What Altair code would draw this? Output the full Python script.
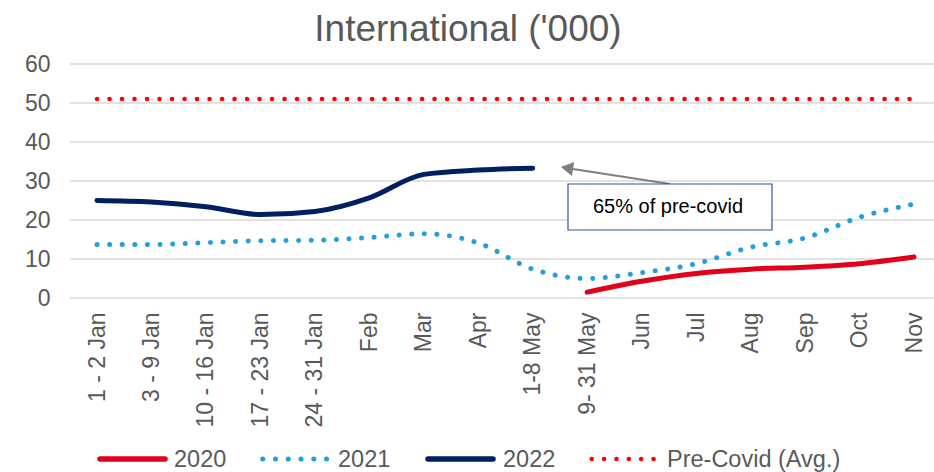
import altair as alt
import pandas as pd

# ---- data -------------------------------------------------------------
categories = ["1 - 2 Jan", "3 - 9 Jan", "10 - 16 Jan", "17 - 23 Jan", "24 - 31 Jan",
              "Feb", "Mar", "Apr", "1-8 May", "9- 31 May", "Jun", "Jul", "Aug",
              "Sep", "Oct", "Nov"]

series_2020 = [None, None, None, None, None, None, None, None, None,
               1.5, 4.3, 6.3, 7.4, 7.9, 8.8, 10.5]
series_2021 = [13.7, 13.7, 14.2, 14.7, 14.8, 15.5, 16.5, 14.1, 7.4,
               5.0, 6.5, 8.8, 13.0, 15.4, 20.7, 24.1]
series_2022 = [25.0, 24.6, 23.4, 21.4, 22.2, 25.7, 31.7, 32.8, 33.3,
               None, None, None, None, None, None, None]
pre_covid = [51.0, 51.0, 51.0, 51.0, 51.0, 51.0, 51.0, 51.0, 51.0,
             51.0, 51.0, 51.0, 51.0, 51.0, 51.0, 51.0]

series_names = ["2020", "2021", "2022", "Pre-Covid (Avg.)"]
series_values = [series_2020, series_2021, series_2022, pre_covid]
series_colors = ["#E2001A", "#24A0D8", "#002060", "#FF0000"]

title_text = "International ('000)"
note_text = "65% of pre-covid"
y_ticks = [0, 10, 20, 30, 40, 50, 60]

rows = []
for name, values in zip(series_names, series_values):
    for cat, v in zip(categories, values):
        if v is not None:
            rows.append({"category": cat, "series": name, "value": v})
df = pd.DataFrame(rows)

FONT = "Liberation Sans"
GREY = "#595959"

# ---- plot geometry (plot area is 864 x 234, offset 70/64 from page) ---
W, H = 864, 234

x_enc = alt.X("category:N", sort=categories,
              scale=alt.Scale(type="point", range=[27, 844], padding=0),
              axis=alt.Axis(title=None, labelAngle=-90, labelFontSize=23,
                            labelColor=GREY, labelFont=FONT, domain=False,
                            ticks=False, grid=False, labelPadding=14,
                            labelOverlap=False, labelLimit=300))
y_scale = alt.Scale(domain=[0, 60], nice=False)
y_enc = alt.Y("value:Q", scale=y_scale,
              axis=alt.Axis(title=None, values=y_ticks, labelFontSize=23,
                            labelColor=GREY, labelFont=FONT, domain=False,
                            ticks=False, grid=False, labelPadding=20,
                            labelOverlap=False))

# horizontal gridlines across the full plot width (same y axis definition)
grid = alt.Chart(pd.DataFrame({"value": y_ticks})).mark_rule(
    color="#D9D9D9", strokeWidth=1.3
).encode(y=y_enc, x=alt.value(0), x2=alt.value(W))

base = alt.Chart(df).encode(x=x_enc, y=y_enc)


def series_layer(name, color, width, dotted=False, dot_gap=12.5):
    props = dict(color=color, strokeWidth=width, strokeCap="round",
                 interpolate="monotone")
    if dotted:
        props["strokeDash"] = [0.1, dot_gap]
    return base.transform_filter(alt.datum.series == name).mark_line(**props)


lines = [
    series_layer("Pre-Covid (Avg.)", series_colors[3], 4.5, dotted=True, dot_gap=12.4),
    series_layer("2021", series_colors[1], 5, dotted=True, dot_gap=12.5),
    series_layer("2020", series_colors[0], 5),
    series_layer("2022", series_colors[2], 5),
]

one = pd.DataFrame({"k": [0]})

# ---- title ------------------------------------------------------------
title = alt.Chart(one).mark_text(
    fontSize=37, font=FONT, color=GREY, align="center", baseline="alphabetic"
).encode(x=alt.value(398), y=alt.value(-23), text=alt.value(title_text))

# ---- callout box with arrow --------------------------------------------
box = alt.Chart(one).mark_rect(
    fill="white", stroke="#2F5597", strokeWidth=1.2
).encode(x=alt.value(498), x2=alt.value(702), y=alt.value(120), y2=alt.value(166))

box_text = alt.Chart(one).mark_text(
    fontSize=20, font=FONT, color="black", align="center", baseline="middle"
).encode(x=alt.value(598), y=alt.value(143), text=alt.value(note_text))

arrow_shaft = alt.Chart(one).mark_rule(
    color="#7F7F7F", strokeWidth=2
).encode(x=alt.value(600), y=alt.value(120), x2=alt.value(503), y2=alt.value(105))

arrow_head = alt.Chart(one).mark_point(
    shape="triangle-left", size=200, filled=True, color="#7F7F7F",
    opacity=1, angle=9
).encode(x=alt.value(497), y=alt.value(104))

# ---- legend row beneath the axis labels ---------------------------------
LEG_Y = 395
legend_layers = []
legend_specs = [
    # (series index, sample start, sample end, dotted, dot gap, width, label x)
    (0, 30, 95, False, 0, 5.5, 104),
    (1, 192.7, 257, True, 12.66, 5, 268),
    (2, 358, 423, False, 0, 5.5, 433),
    (3, 521.7, 584, True, 12.26, 4.5, 597),
]
for idx, xs, xe, dotted, gap, sw, lx in legend_specs:
    rule_props = dict(color=series_colors[idx], strokeWidth=sw, strokeCap="round")
    if dotted:
        rule_props["strokeDash"] = [0.1, gap]
    legend_layers.append(
        alt.Chart(one).mark_rule(**rule_props).encode(
            x=alt.value(xs), x2=alt.value(xe), y=alt.value(LEG_Y), y2=alt.value(LEG_Y))
    )
    legend_layers.append(
        alt.Chart(one).mark_text(
            fontSize=23.5, font=FONT, color=GREY, align="left", baseline="alphabetic"
        ).encode(x=alt.value(lx), y=alt.value(LEG_Y + 8), text=alt.value(series_names[idx]))
    )

chart = alt.layer(
    grid, *lines, title, arrow_shaft, arrow_head, box, box_text, *legend_layers
).properties(
    width=W, height=H,
    autosize=alt.AutoSizeParams(type="none"),
    padding={"left": 70, "top": 64, "right": 0, "bottom": 174},
    background="white",
).configure(font=FONT).configure_view(stroke=None)

chart.save("out.html", embed_options={"renderer": "svg", "actions": False})
